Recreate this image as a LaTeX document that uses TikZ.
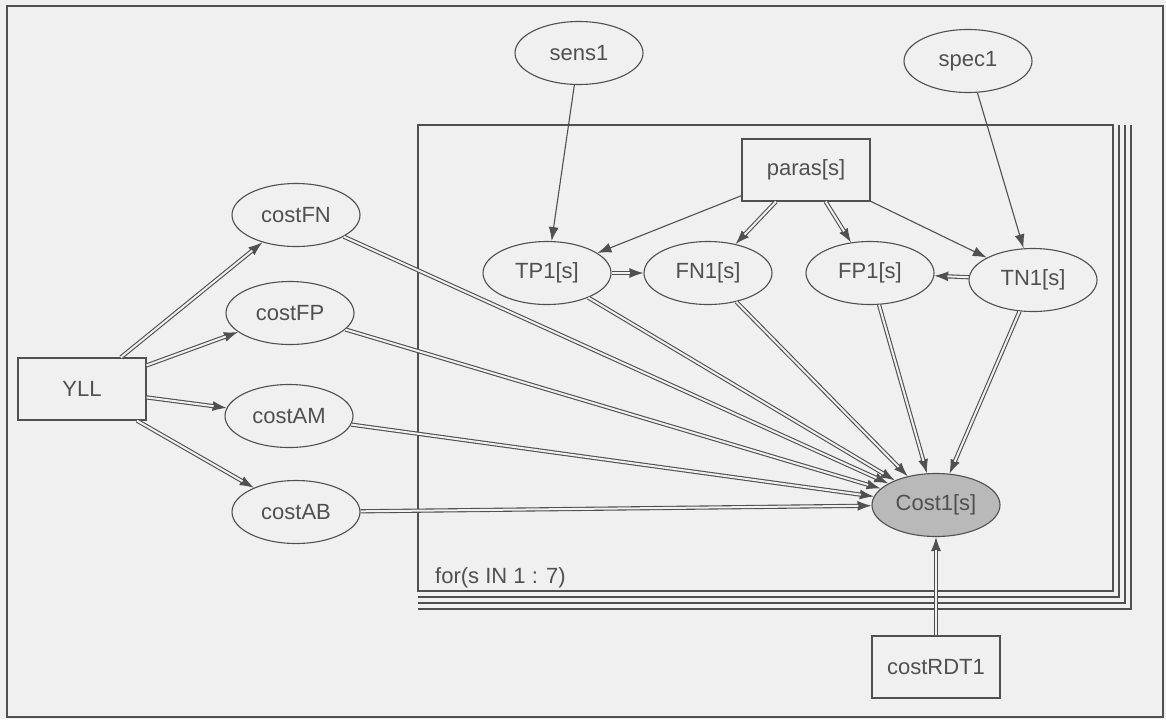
\documentclass[tikz,border=0pt]{standalone}
\usepackage{fontspec}
\setmainfont{Liberation Sans}
\usetikzlibrary{shapes, arrows.meta, positioning}

\definecolor{ink}{HTML}{505050}
\definecolor{paper}{HTML}{F0F0F0}
\definecolor{shade}{HTML}{B9B9B9}

\tikzset{
  stoch/.style={ellipse, draw, minimum width=64pt, minimum height=31.5pt, inner sep=0pt},
  const/.style={rectangle, draw, minimum width=64pt, minimum height=31pt, inner sep=0pt},
  logic/.style={-, double=paper, double distance=1pt, shorten >=6.5pt},
}

\begin{document}
\begin{tikzpicture}[x=0.5pt, y=-0.5pt, ->, >={Latex[length=7pt, width=5pt]}, color=ink, line width=0.55pt, font=\fontsize{11}{13}\selectfont]
    \fill[paper] (0,0) rectangle (1166,719);
    \draw[line width=1.2pt] (7,6) rectangle (1163,717);

    % plate
    \draw[-] (418,125) rectangle (1113,591);
    \foreach \k in {1,2,3}
        \draw[-] (418,{591+6*\k}) -- ({1113+6*\k},{591+6*\k}) -- ({1113+6*\k},125);
    \node[anchor=west] (loop) at (428,578) {for(s IN 1 : 7)};

    \node[stoch] (sens) at (579,53) {sens1};
    \node[stoch] (spec) at (968,61) {spec1};
    \node[const] (paras) at (806,170) {paras[s]};
    \node[stoch] (tp) at (547,273) {TP1[s]};
    \node[stoch] (fn) at (708,273) {FN1[s]};
    \node[stoch] (fp) at (870,273) {FP1[s]};
    \node[stoch] (tn) at (1033,280) {TN1[s]};
    \node[stoch, fill=shade] (cost) at (936,505) {Cost1[s]};
    \node[const] (rdt) at (936,667) {costRDT1};

    \node[const] (yll) at (82,389) {YLL};
    \node[stoch] (cfn) at (296,215) {costFN};
    \node[stoch] (cfp) at (290,313) {costFP};
    \node[stoch] (cam) at (289,416) {costAM};
    \node[stoch] (cab) at (296,512) {costAB};

    % single = stochastic, double = logical
    \path (sens) edge (tp)
          (spec) edge (tn)
          (paras) edge (tp)
          (paras) edge (tn)
          (paras) edge (fn) edge[logic] (fn)
          (paras) edge (fp) edge[logic] (fp)
          (tp) edge (fn) edge[logic] (fn)
          (tn) edge (fp) edge[logic] (fp);
    \foreach \n in {cfn, cfp, cam, cab}
        \path (yll) edge (\n) edge[logic] (\n);
    \foreach \n in {cfn, cfp, cam, cab, tp, fn, fp, tn, rdt}
        \path (\n) edge (cost) edge[logic] (cost);
\end{tikzpicture}
\end{document}
